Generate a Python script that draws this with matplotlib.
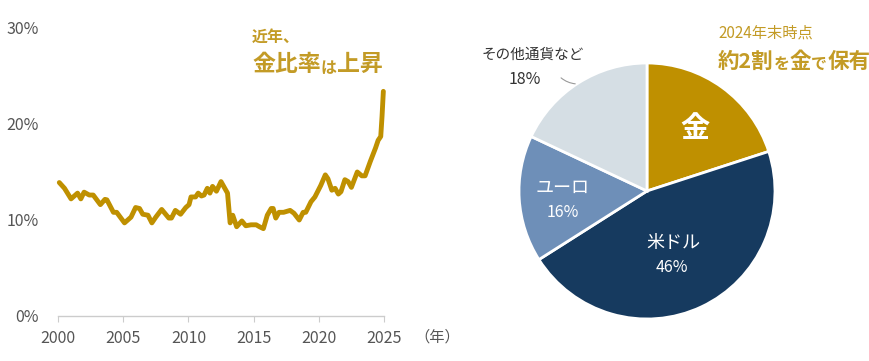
import matplotlib
matplotlib.use("Agg")
import matplotlib.pyplot as plt

plt.rcParams["font.family"] = ["Noto Sans CJK JP", "DejaVu Sans"]

# 金比率の推移（%）
years = [2000.1, 2000.5, 2001.0, 2001.5, 2001.75, 2002.0, 2002.4, 2002.7, 2003.25, 2003.6,
         2003.75, 2004.25, 2004.5, 2005.1, 2005.6, 2005.95, 2006.25, 2006.5, 2006.9, 2007.2,
         2007.5, 2007.95, 2008.5, 2008.7, 2009.0, 2009.4, 2009.8, 2010.05, 2010.2, 2010.55,
         2010.75, 2011.0, 2011.2, 2011.45, 2011.65, 2011.85, 2012.15, 2012.5, 2013.0, 2013.2,
         2013.4, 2013.7, 2014.1, 2014.4, 2014.8, 2015.2, 2015.45, 2015.75, 2016.05, 2016.35,
         2016.5, 2016.7, 2016.95, 2017.3, 2017.8, 2018.1, 2018.5, 2018.8, 2019.0, 2019.4,
         2019.7, 2020.15, 2020.5, 2020.7, 2021.0, 2021.25, 2021.5, 2021.7, 2022.0, 2022.25,
         2022.5, 2022.95, 2023.3, 2023.55, 2023.95, 2024.35, 2024.55, 2024.75, 2024.85, 2024.95]
gold_ratio = [13.9, 13.3, 12.2, 12.8, 12.2, 12.9, 12.6, 12.6, 11.6, 12.15,
              12.1, 10.8, 10.8, 9.7, 10.3, 11.3, 11.2, 10.6, 10.5, 9.7,
              10.3, 11.1, 10.2, 10.2, 11.0, 10.6, 11.3, 11.6, 12.4, 12.4,
              12.8, 12.5, 12.6, 13.3, 12.8, 13.5, 13.0, 14.0, 12.8, 9.7,
              10.5, 9.3, 9.9, 9.4, 9.5, 9.5, 9.3, 9.1, 10.5, 11.2,
              11.2, 10.2, 10.8, 10.8, 11.0, 10.7, 10.0, 10.8, 10.8, 11.9,
              12.4, 13.6, 14.7, 14.3, 13.1, 13.3, 12.7, 12.95, 14.2, 14.0,
              13.4, 15.0, 14.6, 14.6, 16.1, 17.5, 18.3, 18.7, 20.8, 23.4]
x_ticks = [2000, 2005, 2010, 2015, 2020, 2025]
y_ticks = [0, 10, 20, 30]

# 外貨準備の構成（2024年末）
shares = [20, 46, 16, 18]
share_names = ["金", "米ドル", "ユーロ", "その他通貨など"]

GOLD = "#bf9000"
GOLD_TXT = "#c39b26"
GRAY = "#555555"

W, H = 870, 361
fig = plt.figure(figsize=(8.7, 3.61), dpi=100)


def fx(px):
    return px / W


def fy(py):
    return 1 - py / H


def chain_text(ax, x, y, pieces, **kw):
    # サイズの違う文字を横に並べる（最初の文字列は図の座標）
    text, size = pieces[0]
    prev = ax.annotate(text, xy=(x, y), xycoords="figure fraction", fontsize=size,
                       ha="left", va="baseline", annotation_clip=False, **kw)
    for text, size in pieces[1:]:
        prev = ax.annotate(text, xy=(1, 0), xycoords=prev, fontsize=size,
                           ha="left", va="bottom", annotation_clip=False, **kw)


# ---- 左：折れ線 ----
ax = fig.add_axes([fx(58), fy(316), fx(384) - fx(58), fy(28) - fy(316)])
ax.plot(years, gold_ratio, color=GOLD, linewidth=3.5, solid_joinstyle="round",
        solid_capstyle="round", clip_on=False)
ax.set_xlim(2000, 2025)
ax.set_ylim(0, 30)
ax.set_xticks(x_ticks)
ax.set_yticks(y_ticks)
ax.set_yticklabels([f"{v}%" for v in y_ticks])
for s in ["top", "right", "left"]:
    ax.spines[s].set_visible(False)
ax.spines["bottom"].set_color("#cccccc")
ax.spines["bottom"].set_linewidth(1)
ax.tick_params(axis="x", length=4, color="#cccccc", labelsize=11.5, labelcolor=GRAY, pad=6)
ax.tick_params(axis="y", length=0, labelsize=11.5, labelcolor=GRAY, pad=14)
fig.text(fx(414), fy(337), "（年）", fontsize=11, color=GRAY, ha="left", va="center")

fig.text(fx(252), fy(37), "近年、", fontsize=11.5, fontweight="bold",
         color=GOLD_TXT, ha="left", va="center")
chain_text(ax, fx(252), fy(71), [("金比率", 16.5), ("は", 11.5), ("上昇", 16.5)],
           fontweight="bold", color=GOLD_TXT)

# ---- 右：円グラフ ----
pc, pr = (647, 191), 130
pax = fig.add_axes([fx(pc[0] - pr), fy(pc[1] + pr), 2 * pr / W, 2 * pr / H])
colors = [GOLD, "#163a5f", "#6e8fb8", "#d5dee4"]
pax.pie(shares, colors=colors, startangle=90, counterclock=False, radius=128 / 130,
        wedgeprops=dict(edgecolor="white", linewidth=2))
pax.set_xlim(-1, 1)
pax.set_ylim(-1, 1)
pax.set_aspect("auto")


def dx(px):
    return (px - pc[0]) / pr


def dy(py):
    return (pc[1] - py) / pr


pax.text(dx(695), dy(128), share_names[0], fontsize=21, fontweight="bold", color="white",
         ha="center", va="center")
pax.text(dx(673), dy(243), share_names[1], fontsize=13, color="white", ha="center", va="center")
pax.text(dx(672), dy(268), f"{shares[1]}%", fontsize=11.5, color="white", ha="center", va="center")
pax.text(dx(563), dy(188), share_names[2], fontsize=13, color="white", ha="center", va="center")
pax.text(dx(563), dy(213), f"{shares[2]}%", fontsize=11.5, color="white", ha="center", va="center")
pax.text(dx(533), dy(55), share_names[3], fontsize=10.5, color="#333333", ha="center",
         va="center", clip_on=False)
pax.text(dx(525), dy(80), f"{shares[3]}%", fontsize=11.5, color="#333333", ha="center",
         va="center", clip_on=False)
pax.annotate("", xy=(dx(578), dy(84)), xytext=(dx(559), dy(76)),
             arrowprops=dict(arrowstyle="-", color="#999999", lw=0.8,
                             connectionstyle="arc3,rad=0.2"), annotation_clip=False)

fig.text(fx(718), fy(33), "2024年末時点", fontsize=11, color=GOLD_TXT, ha="left", va="center")
chain_text(pax, fx(718), fy(68), [("約2割", 15.5), ("を", 11.5), ("金", 15.5), ("で", 11.5),
                                  ("保有", 15.5)], fontweight="bold", color=GOLD_TXT)

fig.savefig("out.png", dpi=100)
